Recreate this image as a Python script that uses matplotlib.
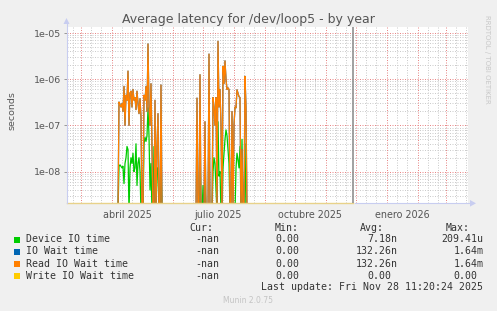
import numpy as np
import matplotlib
matplotlib.use("Agg")
import matplotlib.pyplot as plt
import matplotlib.dates as mdates
from matplotlib.ticker import FixedLocator, FixedFormatter, LogLocator, NullFormatter
from matplotlib.lines import Line2D
from matplotlib.patches import Polygon, Rectangle
from datetime import date, timedelta

# ---------------- data ----------------
title = "Average latency for /dev/loop5 - by year"
ylabel = "seconds"
series_names = ["Device IO time", "IO Wait time", "Read IO Wait time", "Write IO Wait time"]
series_colors = ["#00cc00", "#0066b3", "#ff8000", "#ffcc00"]
cur_vals = ["-nan", "-nan", "-nan", "-nan"]
min_vals = ["0.00", "0.00", "0.00", "0.00"]
avg_vals = ["7.18n", "132.26n", "132.26n", "0.00"]
max_vals = ["209.41u", "1.64m", "1.64m", "0.00"]
last_update = "Last update: Fri Nov 28 11:20:24 2025"
munin_version = "Munin 2.0.75"
side_text = "RRDTOOL / TOBI OETIKER"

view_start = "2025-02-15"
view_end = "2026-03-23"
data_start = "2025-02-15"
now_date = "2025-11-28"

cluster1_start = "2025-04-08"
cluster1_read = [3.2e-7, 2.8e-7, 2.5e-7, 3.0e-7, 2.0e-7, 7.0e-7, 1.0e-7, 4.5e-7, 3.5e-7, 1.5e-6,
                 1.0e-7, 5.0e-7, 5.5e-7, 2.5e-7, 6.0e-7, 3.5e-7, 4.0e-7, 2.2e-7, 5.5e-7, 3.0e-7,
                 1.8e-7, 3.8e-7, 1.5e-7, 0, 0, 4.5e-7, 3.5e-7, 7.0e-7, 2.0e-7, 5.8e-6,
                 2.5e-7, 1.0e-7, 8.0e-7, 3.0e-8, 0, 0, 3.5e-7, 0, 3.8e-8, 1.8e-7,
                 0, 0, 7.5e-7, 0, 0]
cluster1_device = [1.3e-8, 1.4e-8, 1.3e-8, 1.2e-8, 1.3e-8, 5.5e-9, 1.5e-8, 2.0e-8, 3.5e-8, 3.0e-8,
                   0, 1.2e-8, 2.0e-8, 1.5e-8, 2.5e-8, 1.0e-8, 1.2e-8, 4.0e-8, 5.0e-9, 1.5e-8,
                   2.0e-8, 1.0e-8, 0, 0, 0, 4.0e-8, 5.5e-8, 4.5e-8, 6.0e-8, 2.4e-7,
                   6.0e-8, 4.0e-9, 1.5e-8, 0, 0, 3.5e-8, 0, 0, 1.2e-8, 1.2e-8,
                   0, 0, 2.0e-8, 0, 0]

cluster2_start = "2025-06-25"
cluster2_read = [3.9e-7, 0, 0, 1.25e-6, 0, 0, 0, 0, 1.2e-7, 0,
                 0, 0, 3.5e-6, 0, 0, 0, 4.0e-7, 2.5e-7, 1.0e-7, 4.0e-7,
                 0, 6.6e-6, 2.5e-7, 6.0e-7, 1.0e-7, 0, 1.9e-6, 8.0e-7, 2.5e-6, 1.0e-6,
                 6.0e-7, 6.5e-7, 6.0e-7, 0, 0, 2.0e-7, 0, 1.0e-7, 2.5e-7, 2.4e-7,
                 5.9e-7, 5.0e-7, 4.2e-7, 4.0e-7, 0, 3.0e-8, 0, 0, 1.15e-6, 2.5e-7,
                 0]
cluster2_device = [0, 0, 0, 4.5e-8, 0, 0, 5.0e-9, 0, 6.0e-9, 0,
                   0, 0, 0, 0, 0, 0, 1.0e-8, 2.0e-8, 1.5e-8, 4.0e-9,
                   0, 1.2e-7, 8.0e-9, 1.0e-8, 0, 0, 1.2e-8, 2.5e-8, 5.0e-8, 8.0e-8,
                   6.0e-8, 3.0e-8, 1.5e-8, 0, 0, 0, 0, 0, 0, 1.2e-8,
                   2.5e-8, 1.8e-8, 1.2e-8, 3.5e-8, 0, 5.0e-8, 0, 0, 4.0e-8, 0,
                   0]

xtick_dates = ["2025-04-16", "2025-07-16", "2025-10-16", "2026-01-16"]
xtick_labels = ["abril 2025", "julio 2025", "octubre 2025", "enero 2026"]
ytick_values = [1e-8, 1e-7, 1e-6, 1e-5]
ytick_labels = ["1e-08", "1e-07", "1e-06", "1e-05"]

# ---------------- build series ----------------
def d(s):
    return date.fromisoformat(s)

n_days = (d(now_date) - d(data_start)).days + 1
days = [d(data_start) + timedelta(days=i) for i in range(n_days)]
read = np.zeros(n_days)
device = np.zeros(n_days)
write = np.zeros(n_days)
for start, rv, dv in [(cluster1_start, cluster1_read, cluster1_device),
                      (cluster2_start, cluster2_read, cluster2_device)]:
    off = (d(start) - d(data_start)).days
    read[off:off + len(rv)] = rv
    device[off:off + len(dv)] = dv
iowait = read.copy()
xnum = mdates.date2num(days)

# ---------------- figure ----------------
W, H = 497, 311
BG = "#f0f0f0"
fig = plt.figure(figsize=(W / 100, H / 100), dpi=100, facecolor=BG)

def fx(x):
    return x / W

def fy(y):
    return 1 - y / H

L, R, T, B = 67, 468, 27, 203
ax = fig.add_axes([fx(L), fy(B), (R - L) / W, (B - T) / H])
ax.set_facecolor("white")
ax.set_yscale("log")
ybot, ytop = 10 ** -8.68, 10 ** -4.87
ax.set_ylim(ybot, ytop)
ax.set_xlim(mdates.date2num(d(view_start)), mdates.date2num(d(view_end)))
for s in ax.spines.values():
    s.set_visible(False)

# grid
dash = (0, (1, 1.5))
minor_col = "#cccccc"
major_col = "#e88888"
gkw = dict(lw=0.72, ls=dash, snap=True)
ax.yaxis.set_major_locator(FixedLocator(ytick_values))
ax.yaxis.set_major_formatter(FixedFormatter(ytick_labels))
ax.yaxis.set_minor_locator(LogLocator(base=10, subs=np.arange(2, 10)))
ax.yaxis.set_minor_formatter(NullFormatter())
ax.grid(False)
for v in ax.yaxis.get_minorticklocs():
    if ybot < v < ytop:
        ax.axhline(v, color=minor_col, zorder=0.5, **gkw)
for v in ytick_values:
    ax.axhline(v, color=major_col, zorder=0.6, **gkw)

x0, x1 = ax.get_xlim()
m = date(2025, 2, 1)
while mdates.date2num(m) < x1:
    for dd in (11, 21):
        xv = mdates.date2num(date(m.year, m.month, dd))
        if x0 < xv < x1:
            ax.axvline(xv, color=minor_col, zorder=0.5, **gkw)
    xv = mdates.date2num(m)
    if x0 < xv < x1:
        ax.axvline(xv, color=major_col, zorder=0.6, **gkw)
    m = date(m.year + (m.month // 12), m.month % 12 + 1, 1)

# ticks
ax.set_xticks(mdates.date2num([d(s) for s in xtick_dates]))
ax.set_xticklabels(xtick_labels)
ax.tick_params(axis="x", length=0, pad=5, labelsize=6.9, labelcolor="#555555")
ax.tick_params(axis="y", which="major", length=2, width=0.7, color="#999999",
               pad=2, labelsize=6.8, labelcolor="#555555")
ax.tick_params(axis="y", which="minor", length=0)

# series (zeros drop below the visible bottom; write=0 is drawn on the bottom edge)
def below(v):
    return np.where(v > 0, v, ybot * 0.6)

ax.plot(xnum, below(device), color=series_colors[0], lw=0.9, zorder=2)
ax.plot(xnum, below(iowait), color=series_colors[1], lw=0.9, zorder=3)
ax.plot(xnum, below(read), color=series_colors[2], lw=0.9, zorder=4)
ax.plot(xnum, np.where(write > 0, write, ybot), color="#e8d28a", lw=1.0, zorder=5,
        clip_on=False)

# now line
ax.axvline(mdates.date2num(d(now_date)), color="#888888", lw=1.1, zorder=6)

# axis lines with arrows
axis_col = "#c8cdf0"
fig.add_artist(Line2D([fx(L - 0.5), fx(L - 0.5)], [fy(B), fy(22)], color=axis_col, lw=0.8))
fig.add_artist(Line2D([fx(354.5), fx(472)], [fy(B + 0.3), fy(B + 0.3)], color=axis_col, lw=0.8))
fig.add_artist(Polygon([(fx(L - 3.5), fy(24)), (fx(L + 2.5), fy(24)), (fx(L - 0.5), fy(18))],
                       closed=True, color=axis_col, lw=0))
fig.add_artist(Polygon([(fx(470), fy(B - 3)), (fx(470), fy(B + 3.6)), (fx(476), fy(B + 0.3))],
                       closed=True, color=axis_col, lw=0))

# texts
fig.text(fx(248), fy(19), title, ha="center", va="center", fontsize=9, color="#555555")
fig.text(fx(11.5), fy(111), ylabel, ha="center", va="center", rotation=90, fontsize=6.8,
         color="#555555")
fig.text(fx(487), fy(15), side_text, ha="center", va="top", rotation=270, fontsize=5,
         color="#c8c8c8")

mono = "DejaVu Sans Mono"
fs = 7.1
tc = "#333333"
cw = 6.0
hdr_y = 228.3
fig.text(fx(213), fy(hdr_y), "Cur:", ha="right", va="center", family=mono, fontsize=fs, color=tc)
fig.text(fx(299), fy(hdr_y), "Min:", ha="right", va="center", family=mono, fontsize=fs, color=tc)
fig.text(fx(384), fy(hdr_y), "Avg:", ha="right", va="center", family=mono, fontsize=fs, color=tc)
fig.text(fx(470), fy(hdr_y), "Max:", ha="right", va="center", family=mono, fontsize=fs, color=tc)

row_y = [239.5, 251.5, 263.7, 275.7]
col_right = [219, 305, 397.3, 483.3]
for i, name in enumerate(series_names):
    y = row_y[i]
    fig.add_artist(Rectangle((fx(14), fy(y + 3)), 6 / W, 6 / H, color=series_colors[i], lw=0))
    fig.text(fx(26), fy(y), name, ha="left", va="center", family=mono, fontsize=fs, color=tc)
    for j, val in enumerate([cur_vals[i], min_vals[i], avg_vals[i], max_vals[i]]):
        xr = col_right[j]
        if val[-1].isdigit():
            xr -= cw
        fig.text(fx(xr), fy(y), val, ha="right", va="center", family=mono, fontsize=fs, color=tc)

fig.text(fx(483.3), fy(287.5), last_update, ha="right", va="center", family=mono,
         fontsize=fs, color=tc)
fig.text(fx(248), fy(300.5), munin_version, ha="center", va="center", fontsize=5.5,
         color="#c4c4c4")

fig.savefig("out.png", dpi=100, facecolor=BG)
